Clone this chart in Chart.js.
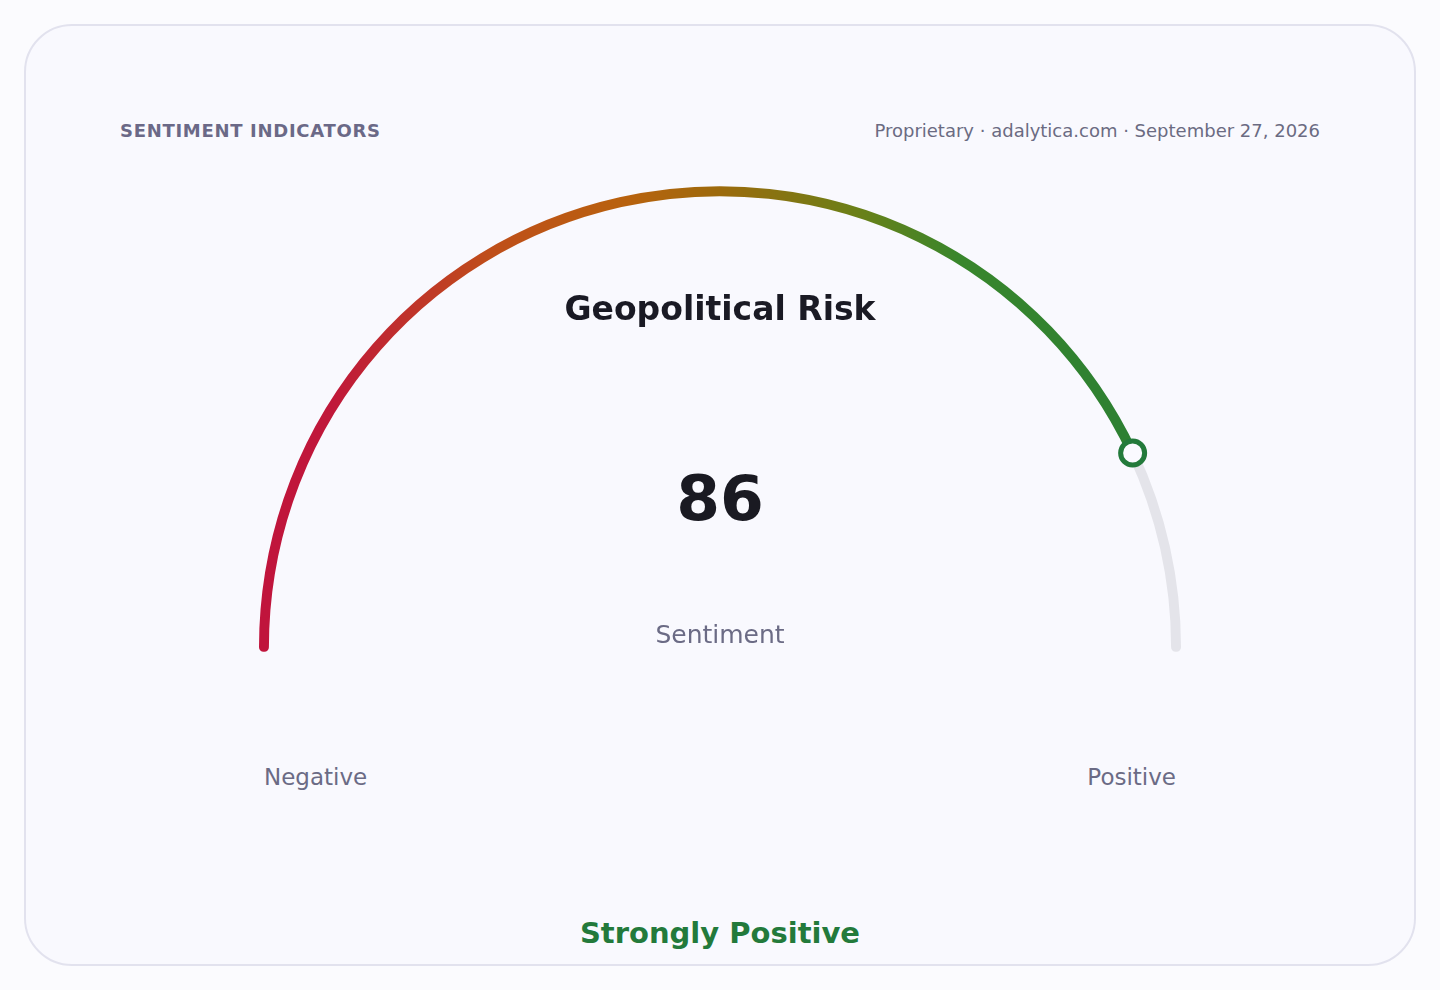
<!DOCTYPE html>
<html>
<head>
<meta charset="utf-8">
<script src="https://cdn.jsdelivr.net/npm/chart.js@4.4.1/dist/chart.umd.min.js"></script>
<style>
  html, body { margin: 0; padding: 0; }
  body {
    width: 1440px; height: 990px; background: #fbfbfe;
    font-family: "DejaVu Sans", sans-serif; position: relative; overflow: hidden;
  }
  .card {
    position: absolute; left: 24px; top: 24px; width: 1388px; height: 938px;
    border: 2px solid #e2e2ee; border-radius: 48px; background: #f9f9fe;
  }
  .txt { position: absolute; white-space: nowrap; line-height: normal; }
  #gauge-wrap { position: absolute; left: 239px; top: 163.75px; width: 962px; height: 510px; }
</style>
</head>
<body>
<div class="card"></div>

<div class="txt" style="left:120px; top:120px; font-size:18px; font-weight:bold; letter-spacing:0.7px; color:#6b6987;">SENTIMENT INDICATORS</div>
<div class="txt" style="right:120px; top:120px; font-size:18px; color:#6b6b82;">Proprietary · adalytica.com · September 27, 2026</div>

<div id="gauge-wrap"><canvas id="gauge"></canvas></div>

<div class="txt" style="left:0; width:1440px; text-align:center; top:288.7px; font-size:33px; font-weight:bold; color:#1a1a24;">Geopolitical Risk</div>
<div class="txt" id="value-text" style="left:0; width:1440px; text-align:center; top:462px; font-size:63px; font-weight:bold; color:#1a1a22;"></div>
<div class="txt" style="left:0; width:1440px; text-align:center; top:620px; font-size:25px; color:#6b6b85;">Sentiment</div>
<div class="txt" style="left:264px; top:763.7px; font-size:23px; color:#6b6b85;">Negative</div>
<div class="txt" style="right:264px; top:763.7px; font-size:23px; color:#6b6b85;">Positive</div>
<div class="txt" style="left:0; width:1440px; text-align:center; top:916.4px; font-size:29px; font-weight:bold; color:#237a3b;">Strongly Positive</div>

<script>
// Gauge data
const gaugeLabels = ['Sentiment', 'Remaining'];
const gaugeValue = [86];
const gaugeMax = [100];

document.getElementById('value-text').textContent = gaugeValue[0];

const trackColor = '#e4e4ea';

// horizontal gradient red -> amber -> green across the arc
function arcColor(context) {
    if (context.dataIndex !== 0) return trackColor;
    const chart = context.chart;
    const area = chart.chartArea;
    if (!area) return '#c0143c';
    const g = chart.ctx.createLinearGradient(area.left, 0, area.right, 0);
    g.addColorStop(0, '#c0143c');
    g.addColorStop(0.08, '#c0183a');
    g.addColorStop(0.25, '#bf4e1a');
    g.addColorStop(0.4, '#b8620e');
    g.addColorStop(0.5, '#9c6a0c');
    g.addColorStop(0.65, '#6a8018');
    g.addColorStop(0.76, '#38862c');
    g.addColorStop(1, '#2a7e34');
    return g;
}

// Draw the marker ring where the value arc ends
const markerPlugin = {
    id: 'marker',
    afterDatasetsDraw(chart) {
        const arc = chart.getDatasetMeta(0).data[0];
        if (!arc) return;
        const p = arc.getProps(['x', 'y', 'endAngle', 'innerRadius', 'outerRadius'], true);
        const r = (p.innerRadius + p.outerRadius) / 2;
        const mx = p.x + Math.cos(p.endAngle) * r;
        const my = p.y + Math.sin(p.endAngle) * r;
        const ctx = chart.ctx;
        ctx.save();
        ctx.beginPath();
        ctx.arc(mx, my, 12, 0, Math.PI * 2);
        ctx.fillStyle = '#fafaff';
        ctx.fill();
        ctx.lineWidth = 5;
        ctx.strokeStyle = '#237a3b';
        ctx.stroke();
        ctx.restore();
    }
};

new Chart(document.getElementById('gauge'), {
    type: 'doughnut',
    data: {
        labels: gaugeLabels,
        datasets: [{
            data: [gaugeValue[0], gaugeMax[0] - gaugeValue[0]],
            backgroundColor: arcColor,
            borderColor: arcColor,
            borderWidth: 9,
            borderJoinStyle: 'round',
            borderAlign: 'center'
        }]
    },
    options: {
        responsive: true,
        maintainAspectRatio: false,
        animation: false,
        events: [],
        rotation: -90,
        circumference: 180,
        cutout: '99.8%',
        layout: { padding: 20 },
        plugins: {
            legend: { display: false },
            tooltip: { enabled: false }
        }
    },
    plugins: [markerPlugin]
});
</script>
</body>
</html>
